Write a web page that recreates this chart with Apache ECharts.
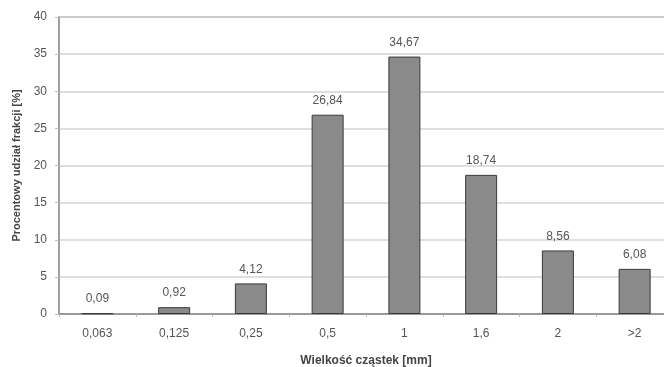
<!DOCTYPE html>
<html><head><meta charset="utf-8">
<script src="https://cdn.jsdelivr.net/npm/echarts@6/dist/echarts.min.js"></script>
<style>html,body{margin:0;padding:0;background:#fff}#c{width:664px;height:367px}</style>
</head><body><div id="c"></div>
<script>
const categories = ['0,063','0,125','0,25','0,5','1','1,6','2','>2'];
const values = [0.09, 0.92, 4.12, 26.84, 34.67, 18.74, 8.56, 6.08];
const yTicks = [0, 5, 10, 15, 20, 25, 30, 35, 40];

const chart = echarts.init(document.getElementById('c'));
chart.setOption({
  animation: false,
  grid: { left: 59, width: 614, top: 17, bottom: 53, show: true, borderColor: '#999', borderWidth: 1.5,
          outerBoundsMode: 'none', containLabel: false },
  xAxis: {
    type: 'category', data: categories,
    axisLine: { lineStyle: { color: '#888', width: 1.5 } },
    axisTick: { show: true, alignWithLabel: false, length: 3, lineStyle: { color: '#bbb' } },
    axisLabel: { color: '#555', fontSize: 12, fontFamily: 'Arial, Liberation Sans', margin: 14 },
    name: 'Wielkość cząstek [mm]', nameLocation: 'middle', nameGap: 41,
    nameTextStyle: { color: '#444', fontWeight: 'bold', fontSize: 12, fontFamily: 'Arial, Liberation Sans' }
  },
  yAxis: {
    type: 'value', min: 0, max: 40, interval: 5,
    axisLine: { show: true, lineStyle: { color: '#999', width: 1.5 } },
    axisTick: { show: true, length: 4, lineStyle: { color: '#bbb' } },
    axisLabel: { color: '#555', fontSize: 12, fontFamily: 'Arial, Liberation Sans', margin: 12,
      formatter: v => yTicks.includes(v) ? String(v) : '' },
    splitLine: { lineStyle: { color: '#d4d4d4', width: 1.5 } },
    name: 'Procentowy udział frakcji [%]', nameLocation: 'middle', nameGap: 33,
    nameTextStyle: { color: '#444', fontWeight: 'bold', fontSize: 11, fontFamily: 'Arial, Liberation Sans' }
  },
  series: [{
    type: 'bar', data: values, barWidth: 32,
    itemStyle: { color: '#8a8a8a', borderColor: '#3a3a3a', borderWidth: 1 },
    label: { show: true, position: 'top', distance: 8, color: '#555', fontSize: 12, fontFamily: 'Arial, Liberation Sans',
      formatter: p => p.value.toFixed(2).replace('.', ',') }
  }]
});
</script></body></html>
